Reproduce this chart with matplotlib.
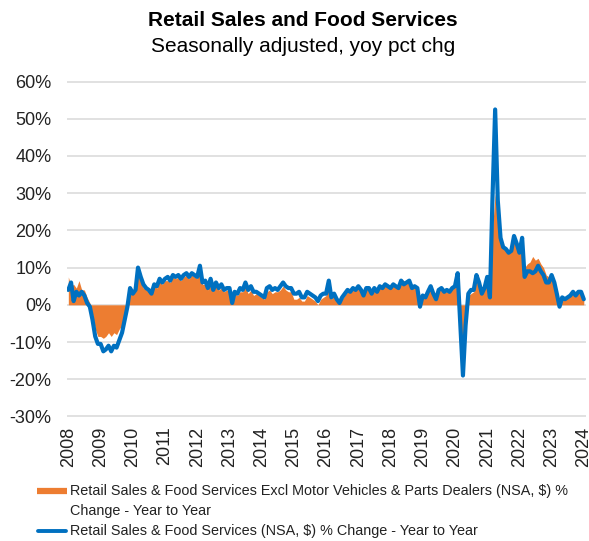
import pandas as pd
import matplotlib.pyplot as plt
from matplotlib.lines import Line2D
from matplotlib.ticker import FuncFormatter, MultipleLocator
import matplotlib.dates as mdates

plt.rcParams['font.family'] = ['Liberation Sans', 'DejaVu Sans']

# Monthly yoy % change, Jan 2008 - Jan 2024
months = pd.date_range('2008-01-01', '2024-01-01', freq='MS')

total_yoy = [
    4.0, 6.0, 1.0, 3.5, 2.5, 3.5, 2.5, 0.5, -0.5, -4.0, -8.5, -10.5,          # 2008
    -10.5, -12.5, -12.0, -11.0, -12.5, -11.0, -11.5, -9.5, -7.5, -4.0, -0.5, 4.5,  # 2009
    3.0, 4.0, 10.0, 7.5, 5.5, 4.5, 4.0, 3.0, 5.5, 5.0, 7.0, 6.0,              # 2010
    7.0, 7.5, 6.5, 8.0, 7.5, 8.0, 7.0, 8.0, 8.5, 7.5, 8.5, 8.0,               # 2011
    7.5, 10.5, 6.0, 6.5, 4.5, 7.0, 4.0, 6.0, 4.5, 5.5, 4.0, 4.5,              # 2012
    4.5, 0.5, 3.5, 3.0, 4.5, 4.0, 6.0, 4.0, 5.0, 3.5, 3.5, 3.0,               # 2013
    2.5, 2.0, 4.5, 5.0, 4.0, 4.5, 4.0, 5.0, 6.0, 5.0, 4.5, 4.5,               # 2014
    3.0, 3.0, 3.5, 2.0, 2.0, 3.5, 3.0, 2.5, 2.0, 1.0, 2.5, 3.0,               # 2015
    3.0, 6.5, 2.0, 3.0, 1.5, 0.5, 2.0, 3.0, 4.0, 3.5, 4.5, 4.0,               # 2016
    5.0, 4.0, 2.5, 4.5, 4.5, 3.0, 4.5, 3.5, 5.0, 4.5, 5.5, 5.0,               # 2017
    4.5, 5.5, 5.0, 4.5, 6.5, 5.5, 6.0, 6.5, 4.5, 5.0, 4.5, -0.5,              # 2018
    2.5, 2.0, 3.5, 5.0, 3.0, 1.5, 4.0, 4.5, 3.5, 4.0, 3.5, 4.5,               # 2019
    5.0, 8.5, -5.0, -19.0, -5.5, 3.0, 4.0, 4.0, 8.0, 6.0, 3.0, 4.5,           # 2020
    7.5, 2.0, 28.0, 52.5, 28.0, 18.0, 15.5, 15.0, 14.0, 14.5, 18.5, 16.5,     # 2021
    14.0, 18.0, 7.5, 9.0, 9.0, 8.5, 9.0, 10.5, 9.0, 8.0, 6.0, 6.0,            # 2022
    8.0, 6.0, 3.0, -0.5, 2.0, 1.5, 2.0, 2.5, 3.5, 2.5, 3.5, 3.5,              # 2023
    1.5,                                                                      # 2024
]

ex_auto_yoy = [
    7.5, 5.0, 5.5, 4.5, 6.5, 4.0, 4.0, 2.0, 0.5, -2.5, -6.5, -8.5,            # 2008
    -8.5, -9.0, -8.5, -7.5, -8.5, -7.5, -8.0, -6.5, -5.5, -3.0, 0.5, 4.0,     # 2009
    3.0, 3.5, 8.5, 6.0, 4.5, 4.0, 3.5, 3.0, 5.0, 4.5, 6.5, 5.5,               # 2010
    6.5, 6.5, 6.0, 7.5, 7.0, 7.5, 6.5, 7.5, 8.0, 7.0, 8.0, 7.5,               # 2011
    7.0, 9.5, 5.5, 5.5, 4.0, 6.0, 3.5, 5.5, 4.0, 4.5, 3.5, 4.0,               # 2012
    4.0, 0.0, 3.0, 2.5, 3.5, 3.5, 5.0, 3.0, 4.0, 2.5, 3.0, 2.5,               # 2013
    2.0, 1.5, 3.5, 4.0, 3.0, 3.5, 3.5, 4.0, 5.0, 4.0, 3.5, 3.5,               # 2014
    1.5, 1.5, 2.0, 1.0, 1.0, 2.5, 2.0, 1.5, 1.0, 0.0, 1.5, 2.0,               # 2015
    2.5, 5.5, 1.5, 2.5, 1.0, 0.5, 1.5, 2.5, 3.5, 3.5, 4.0, 4.0,               # 2016
    5.0, 4.0, 3.0, 4.5, 4.5, 3.5, 4.5, 4.0, 5.0, 5.0, 6.0, 5.5,               # 2017
    5.0, 5.5, 5.5, 5.0, 7.0, 6.5, 6.5, 7.0, 5.0, 5.0, 4.5, 0.5,               # 2018
    2.5, 2.0, 3.5, 4.5, 3.0, 1.5, 4.0, 4.0, 3.5, 3.5, 3.5, 5.0,               # 2019
    5.0, 7.5, -2.0, -14.0, -3.0, 2.5, 3.0, 3.5, 6.5, 5.0, 3.0, 4.5,           # 2020
    6.5, 2.0, 20.0, 30.0, 22.0, 17.0, 15.5, 15.0, 14.0, 14.5, 17.5, 16.0,     # 2021
    14.5, 17.0, 10.0, 11.0, 11.5, 13.0, 12.0, 12.5, 11.0, 10.0, 8.0, 7.5,     # 2022
    8.0, 6.0, 3.5, 1.0, 2.5, 2.0, 2.5, 3.0, 3.5, 3.0, 3.5, 3.5,               # 2023
    2.0,                                                                      # 2024
]

years = list(range(2008, 2025))

label_ex_auto = ("Retail Sales & Food Services Excl Motor Vehicles & Parts Dealers (NSA, $) %\n"
                 "Change - Year to Year")
label_total = "Retail Sales & Food Services (NSA, $) % Change - Year to Year"

ORANGE = '#ED7D31'
BLUE = '#0070C0'
W, H = 589, 541

fig = plt.figure(figsize=(W / 100, H / 100), dpi=100)
ax = fig.add_axes([67 / W, 1 - 417 / H, 519 / W, 336 / H])

ax.fill_between(months, 0, ex_auto_yoy, color=ORANGE, linewidth=0, zorder=2)
ax.plot(months, total_yoy, color=BLUE, linewidth=3.0,
        solid_joinstyle='round', solid_capstyle='round', zorder=3)

ax.set_ylim(-30.15, 60.15)
ax.yaxis.set_major_locator(MultipleLocator(10))
ax.yaxis.set_major_formatter(FuncFormatter(lambda v, p: f'{v:.0f}%'))
ax.set_xlim(mdates.date2num(pd.Timestamp('2008-01-01')) - 15,
            mdates.date2num(pd.Timestamp('2024-01-01')) + 25)
ax.set_xticks([pd.Timestamp(f'{y}-01-01') for y in years])
ax.set_xticklabels([str(y) for y in years], rotation=90, va='top', ha='center')

ax.grid(axis='y', color='#D9D9D9', linewidth=1.1, zorder=0)
ax.set_axisbelow(True)
for s in ax.spines.values():
    s.set_visible(False)
ax.tick_params(axis='both', length=0, labelsize=13, colors='#222222')
ax.tick_params(axis='y', pad=11)
ax.tick_params(axis='x', pad=7)

fig.text(303 / W, 1 - 21 / H, "Retail Sales and Food Services", ha='center', va='center',
         fontsize=15, fontweight='bold', color='black')
fig.text(303 / W, 1 - 46 / H, "Seasonally adjusted, yoy pct chg", ha='center', va='center',
         fontsize=15, color='black')

# legend drawn by hand (Excel style: swatch on the first text line)
fig.add_artist(Line2D([37 / W, 67 / W], [1 - 491 / H] * 2, color=ORANGE, linewidth=4.5,
                      solid_capstyle='butt', transform=fig.transFigure))
fig.add_artist(Line2D([38 / W, 66 / W], [1 - 531 / H] * 2, color=BLUE, linewidth=2.8,
                      solid_capstyle='round', transform=fig.transFigure))
fig.text(70 / W, 1 - 491 / H, label_ex_auto.split('\n')[0], va='center', fontsize=10.4, color='#222222')
fig.text(70 / W, 1 - 511 / H, label_ex_auto.split('\n')[1], va='center', fontsize=10.4, color='#222222')
fig.text(70 / W, 1 - 531 / H, label_total, va='center', fontsize=10.4, color='#222222')

fig.savefig('out.png', dpi=100)
